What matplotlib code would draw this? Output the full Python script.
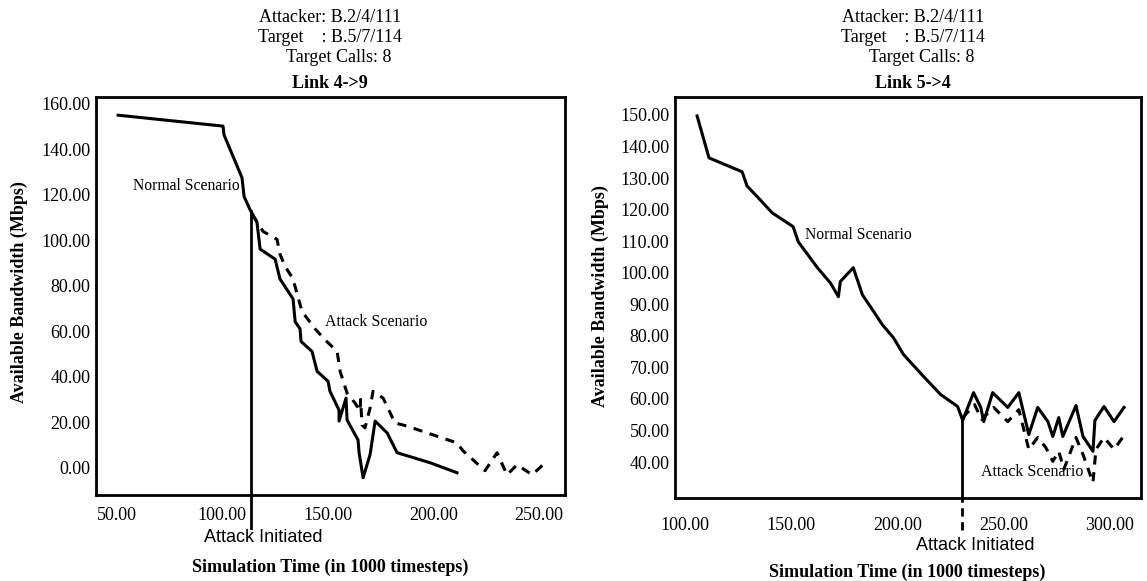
import matplotlib
matplotlib.use("Agg")
import matplotlib.pyplot as plt
from matplotlib.ticker import FormatStrFormatter
import matplotlib.transforms as mtransforms

plt.rcParams["font.family"] = ["Liberation Serif", "DejaVu Serif"]

# Link 4->9
link49_normal_time = [50.6, 100.3, 100.8, 109.3, 110.3, 113.1, 116.4, 117.9, 125.0, 127.3,
                      133.5, 134.5, 136.8, 137.3, 142.5, 144.9, 150.1, 151.0, 155.3, 155.3,
                      158.6, 159.1, 164.3, 164.8, 166.7, 170.0, 172.4, 178.1, 182.8, 198.4, 211.2]
link49_normal_bw = [155.0, 150.2, 146.3, 127.5, 119.2, 113.5, 107.9, 96.1, 91.7, 83.0,
                    74.2, 64.2, 61.1, 55.5, 51.1, 42.4, 38.0, 33.6, 25.3, 20.5,
                    30.6, 21.0, 12.2, 6.6, -4.4, 5.7, 20.5, 15.3, 6.6, 2.2, -2.2]
link49_attack_time = [114.1, 119.3, 125.9, 127.3, 129.7, 133.5, 135.4, 137.8, 143.9, 148.6,
                      154.4, 155.8, 159.1, 162.9, 165.3, 165.5, 166.2, 167.6, 170.0, 171.4,
                      176.2, 181.8, 187.5, 211.2, 214.1, 224.5, 230.2, 234.9, 239.7, 246.8,
                      252.0, 253.5]
link49_attack_bw = [111.4, 103.9, 100.4, 93.9, 88.6, 83.0, 76.4, 68.6, 61.1, 56.3,
                    51.1, 42.4, 32.8, 28.4, 24.9, 30.0, 18.8, 17.5, 26.2, 33.6,
                    30.6, 19.7, 18.3, 10.9, 7.4, -1.3, 6.6, -3.1, 1.3, -3.1,
                    1.3, 1.7]
link49_attack_start = 113.6
link49_attack_start_bw = 113.0

# Link 5->4
link54_normal_time = [105.7, 111.3, 126.9, 129.2, 135.4, 141.0, 150.9, 153.3, 157.5, 162.3,
                      168.4, 172.2, 173.1, 179.2, 183.5, 188.2, 192.9, 198.1, 202.8, 212.3,
                      220.3, 228.3, 230.7, 235.8, 239.2, 240.6, 244.8, 251.9, 257.1, 261.8,
                      266.0, 270.8, 273.1, 275.9, 277.8, 284.0, 287.3, 292.0, 292.9, 297.2,
                      301.9, 306.6]
link54_normal_bw = [149.7, 136.4, 132.0, 127.5, 123.1, 119.0, 114.6, 109.8, 106.0, 101.6,
                    96.8, 92.4, 97.2, 101.6, 93.0, 88.3, 83.5, 79.4, 74.1, 67.1,
                    61.4, 57.6, 53.2, 62.0, 57.3, 52.8, 62.0, 57.3, 62.0, 48.7,
                    57.3, 52.8, 48.1, 54.1, 48.1, 57.9, 48.1, 43.4, 53.2, 57.6,
                    52.8, 57.3]
link54_attack_time = [230.7, 236.3, 239.6, 245.3, 251.9, 257.1, 261.8, 266.0, 269.8, 273.1,
                      275.9, 278.3, 284.0, 287.3, 292.0, 293.4, 297.2, 301.9, 306.6]
link54_attack_bw = [54.1, 58.2, 53.5, 57.3, 52.8, 56.6, 44.0, 47.8, 44.6, 40.2,
                    43.4, 37.7, 47.8, 42.4, 33.5, 44.0, 47.8, 44.0, 48.4]
link54_attack_start = 230.5
link54_attack_start_bw = 53.5

W, H = 1147, 581
fig = plt.figure(figsize=(W / 100, H / 100), dpi=100)


def px(x, y):
    return x / W, 1 - y / H


def style_axes(ax, xlim, ylim, yticks, xticks, xpad):
    ax.set_xlim(*xlim)
    ax.set_ylim(*ylim)
    ax.set_xticks(xticks)
    ax.set_yticks(yticks)
    ax.xaxis.set_major_formatter(FormatStrFormatter("%.2f"))
    ax.yaxis.set_major_formatter(FormatStrFormatter("%.2f"))
    ax.tick_params(length=0, labelsize=13)
    ax.tick_params(axis="x", pad=xpad)
    ax.tick_params(axis="y", pad=4)
    for s in ax.spines.values():
        s.set_linewidth(2)


# left chart
ax1 = fig.add_axes([96 / W, 1 - 495 / H, 469 / W, 398 / H])
ax1.plot(link49_normal_time, link49_normal_bw, color="black", lw=2.2)
ax1.plot(link49_attack_time, link49_attack_bw, color="black", lw=2.2, linestyle=(0, (3, 2.5)))
style_axes(ax1, (40.1, 262.4), (-12, 163), [0, 20, 40, 60, 80, 100, 120, 140, 160],
           [50, 100, 150, 200, 250], 9)
tr1 = mtransforms.blended_transform_factory(ax1.transData, ax1.transAxes)
ax1.plot([link49_attack_start, link49_attack_start], [-0.083, 0], transform=tr1,
         color="black", lw=2, clip_on=False)
ax1.plot([link49_attack_start, link49_attack_start], [-12, link49_attack_start_bw],
         color="black", lw=2)
ax1.text(57.7, 124.0, "Normal Scenario", fontsize=11.3, va="center")
ax1.text(148.7, 64.2, "Attack Scenario", fontsize=11.5, va="center")

# right chart
ax2 = fig.add_axes([675 / W, 1 - 498 / H, 466 / W, 401 / H])
ax2.plot(link54_normal_time, link54_normal_bw, color="black", lw=2.2)
ax2.plot(link54_attack_time, link54_attack_bw, color="black", lw=2.2, linestyle=(0, (3, 2.5)))
style_axes(ax2, (95.3, 314.6), (28.6, 155.7), list(range(40, 151, 10)),
           [100, 150, 200, 250, 300], 14)
tr2 = mtransforms.blended_transform_factory(ax2.transData, ax2.transAxes)
ax2.plot([link54_attack_start, link54_attack_start], [-0.08, 0], transform=tr2,
         color="black", lw=2, linestyle=(0, (3, 2)), clip_on=False)
ax2.plot([link54_attack_start, link54_attack_start], [28.6, link54_attack_start_bw],
         color="black", lw=2)
ax2.text(156.6, 112.0, "Normal Scenario", fontsize=11.3, va="center")
ax2.text(239.2, 36.7, "Attack Scenario", fontsize=11.5, va="center")

# headers
for cx, link in [(330, "Link 4->9"), (913, "Link 5->4")]:
    fig.text(*px(cx, 18), "Attacker: B.2/4/111", fontsize=13, ha="center", va="center")
    fig.text(*px(cx, 38), "Target    : B.5/7/114", fontsize=13, ha="center", va="center")
    fig.text(*px(cx + 9, 57), "Target Calls: 8", fontsize=13, ha="center", va="center")
    fig.text(*px(cx, 84), link, fontsize=13, fontweight="bold", ha="center", va="center")

fig.text(*px(263, 537), "Attack Initiated", fontsize=13, ha="center", va="center",
         family=["Liberation Sans", "DejaVu Sans"])
fig.text(*px(975, 546), "Attack Initiated", fontsize=13, ha="center", va="center",
         family=["Liberation Sans", "DejaVu Sans"])

fig.text(*px(330, 567), "Simulation Time (in 1000 timesteps)", fontsize=13,
         fontweight="bold", ha="center", va="center")
fig.text(*px(907, 572), "Simulation Time (in 1000 timesteps)", fontsize=13,
         fontweight="bold", ha="center", va="center")

fig.text(*px(19, 292), "Available Bandwidth (Mbps)", fontsize=13, fontweight="bold",
         rotation=90, ha="center", va="center")
fig.text(*px(600, 296), "Available Bandwidth (Mbps)", fontsize=13, fontweight="bold",
         rotation=90, ha="center", va="center")

fig.savefig("out.png", dpi=100)
